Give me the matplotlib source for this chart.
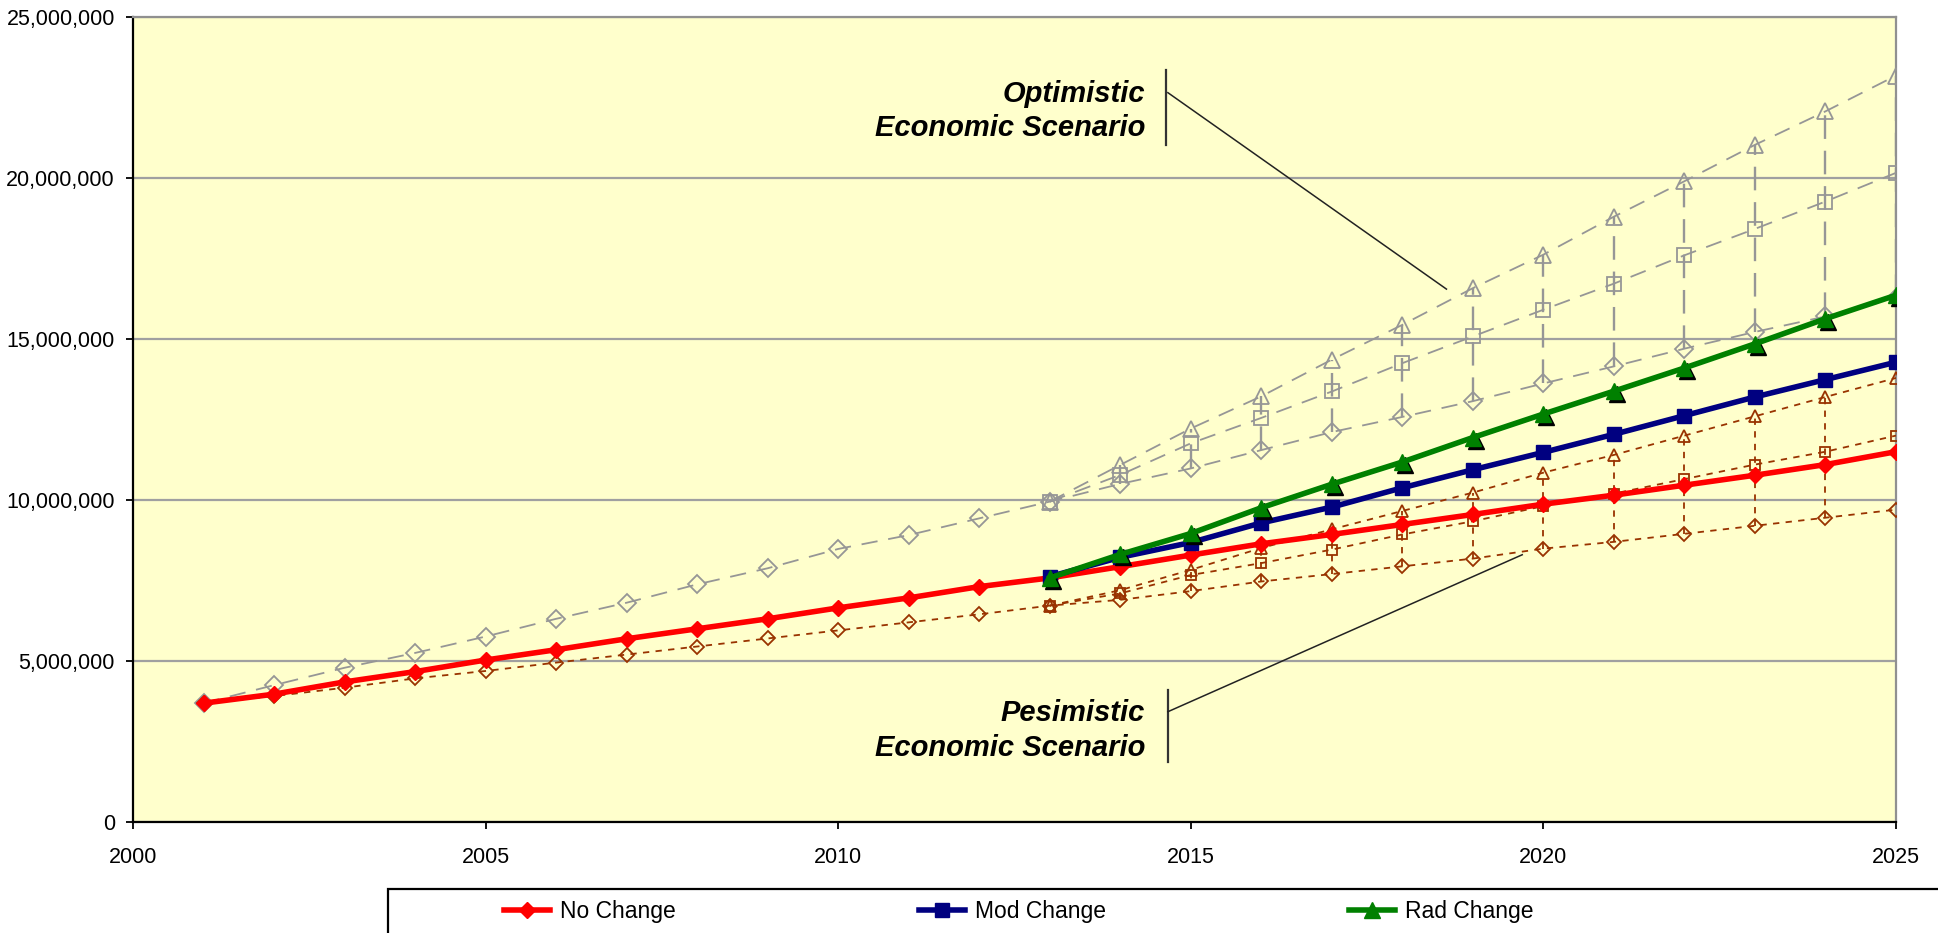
import matplotlib
matplotlib.use('Agg')
import matplotlib.pyplot as plt
import numpy as np
from matplotlib.transforms import offset_copy
from matplotlib.patches import Rectangle
from matplotlib.ticker import FuncFormatter, MultipleLocator

plt.rcParams['font.family'] = ['Liberation Sans', 'DejaVu Sans']

# ---------------- data (millions) ----------------
years_all = list(range(2001, 2026))
years_proj = list(range(2013, 2026))

no_change = [3.69, 3.97, 4.35, 4.67, 5.03, 5.35, 5.69, 6.00, 6.31, 6.65, 6.96, 7.31, 7.58,
             7.93, 8.29, 8.64, 8.93, 9.24, 9.55, 9.87, 10.15, 10.46, 10.77, 11.10, 11.50]
mod_change = [7.62, 8.22, 8.68, 9.29, 9.78, 10.38, 10.94, 11.48, 12.04, 12.62, 13.20, 13.74, 14.28]
rad_change = [7.58, 8.31, 8.96, 9.76, 10.49, 11.18, 11.94, 12.67, 13.38, 14.10, 14.85, 15.63, 16.36]

opt_no = [3.69, 4.25, 4.79, 5.25, 5.76, 6.31, 6.81, 7.38, 7.88, 8.48, 8.91, 9.43, 9.95,
          10.50, 10.98, 11.55, 12.11, 12.58, 13.07, 13.62, 14.15, 14.70, 15.22, 15.70, 16.27]
opt_mod = [9.95, 10.78, 11.76, 12.55, 13.37, 14.25, 15.08, 15.91, 16.72, 17.60, 18.42, 19.27, 20.16]
opt_rad = [9.95, 11.09, 12.22, 13.22, 14.36, 15.44, 16.58, 17.62, 18.80, 19.90, 21.03, 22.07, 23.18]

pes_no = [3.69, 3.91, 4.17, 4.46, 4.69, 4.95, 5.20, 5.45, 5.70, 5.95, 6.20, 6.45, 6.72,
          6.90, 7.17, 7.47, 7.70, 7.94, 8.18, 8.49, 8.70, 8.95, 9.20, 9.45, 9.70]
pes_mod = [6.72, 7.10, 7.67, 8.04, 8.46, 8.93, 9.34, 9.81, 10.20, 10.65, 11.10, 11.50, 12.00]
pes_rad = [6.72, 7.20, 7.83, 8.51, 9.09, 9.66, 10.23, 10.85, 11.40, 12.00, 12.60, 13.20, 13.79]

labels = ['No Change', 'Mod Change', 'Rad Change']
x_ticks = [2000, 2005, 2010, 2015, 2020, 2025]

M = 1e6
def sc(v):
    return np.array(v) * M

# ---------------- figure ----------------
W, H = 1938, 933
fig = plt.figure(figsize=(W / 100, H / 100), dpi=100)
ax = fig.add_axes([133 / W, (H - 822) / H, (1896 - 133) / W, (822 - 17) / H])
ax.set_facecolor('#FFFFCC')

gray = '#969696'
brown = '#993300'

# optimistic (gray, dashed, hollow markers)
dash_g = (0, (9, 6))
ax.plot(years_all, sc(opt_no), color=gray, lw=1.3, ls=dash_g, marker='D', ms=9.5,
        mfc='none', mec=gray, mew=1.3, zorder=3)
ax.plot(years_proj, sc(opt_mod), color=gray, lw=1.3, ls=dash_g, marker='s', ms=10,
        mfc='none', mec=gray, mew=1.3, zorder=3)
ax.plot(years_proj, sc(opt_rad), color=gray, lw=1.3, ls=dash_g, marker='^', ms=11.5,
        mfc='none', mec=gray, mew=1.3, zorder=3)
opt_lo = np.minimum(np.minimum(opt_no[12:], opt_mod), opt_rad)
opt_hi = np.maximum(np.maximum(opt_no[12:], opt_mod), opt_rad)
ax.vlines(years_proj[1:], sc(opt_lo[1:]), sc(opt_hi[1:]), colors=gray, lw=1.7,
          linestyles=[(0, (10, 5))], zorder=2.5)

# pessimistic (brown, dotted, small hollow markers)
dash_b = (0, (3.5, 3.5))
ax.plot(years_all, sc(pes_no), color=brown, lw=1.3, ls=dash_b, marker='D', ms=7,
        mfc='none', mec=brown, mew=1.3, zorder=3)
ax.plot(years_proj, sc(pes_mod), color=brown, lw=1.3, ls=dash_b, marker='s', ms=7.5,
        mfc='none', mec=brown, mew=1.3, zorder=3)
ax.plot(years_proj, sc(pes_rad), color=brown, lw=1.3, ls=dash_b, marker='^', ms=8.5,
        mfc='none', mec=brown, mew=1.3, zorder=3)
pes_lo = np.minimum(np.minimum(pes_no[12:], pes_mod), pes_rad)
pes_hi = np.maximum(np.maximum(pes_no[12:], pes_mod), pes_rad)
ax.vlines(years_proj[1:], sc(pes_lo[1:]), sc(pes_hi[1:]), colors=brown, lw=1.3,
          linestyles=[dash_b], zorder=2.5)

# main scenarios
l_red, = ax.plot(years_all, sc(no_change), color='#FF0000', lw=4.0, marker='D', ms=8.5,
                 mfc='#FF0000', mec='#FF0000', zorder=5, label=labels[0])
l_blue, = ax.plot(years_proj, sc(mod_change), color='#000080', lw=4.0, marker='s', ms=10,
                  mfc='#000080', mec='#000080', zorder=6, label=labels[1])
shadow = offset_copy(ax.transData, fig=fig, x=3, y=-3, units='dots')
ax.plot(years_proj, sc(rad_change), ls='none', marker='^', ms=11.5, mfc='black', mec='black',
        transform=shadow, zorder=6.5)
l_green, = ax.plot(years_proj, sc(rad_change), color='#008000', lw=4.0, marker='^', ms=11.5,
                   mfc='#008000', mec='#008000', zorder=7, label=labels[2])

# axes styling
ax.set_xlim(2000, 2025)
ax.set_ylim(0, 25 * M)
ax.set_xticks(x_ticks)
ax.yaxis.set_major_locator(MultipleLocator(5 * M))
ax.yaxis.set_major_formatter(FuncFormatter(lambda v, p: f'{v:,.0f}'))
ax.grid(axis='y', color='#A0A0A0', lw=1.6, zorder=1)
ax.set_axisbelow(True)
for s in ['left', 'bottom']:
    ax.spines[s].set_color('black')
    ax.spines[s].set_linewidth(1.6)
for s in ['top', 'right']:
    ax.spines[s].set_color('#909090')
    ax.spines[s].set_linewidth(1.6)
ax.tick_params(axis='both', direction='out', length=5, width=1.3, labelsize=15.5,
               colors='black')
ax.tick_params(axis='y', pad=8)
ax.tick_params(axis='x', pad=13)

# annotations
txt_kw = dict(transform=ax.transAxes, ha='right', va='center', fontsize=21,
              style='italic', weight='bold', linespacing=1.3)
ax.text(0.574, 0.883, 'Optimistic\nEconomic Scenario', **txt_kw)
ax.text(0.574, 0.114, 'Pesimistic\nEconomic Scenario', **txt_kw)
ax.plot([0.586, 0.586], [0.934, 0.841], transform=ax.transAxes, color='#333333', lw=1.6, zorder=8)
ax.plot([0.587, 0.745], [0.906, 0.662], transform=ax.transAxes, color='#222222', lw=1.1, zorder=8)
ax.plot([0.587, 0.587], [0.164, 0.0745], transform=ax.transAxes, color='#333333', lw=1.6, zorder=8)
ax.plot([0.587, 0.788], [0.137, 0.332], transform=ax.transAxes, color='#222222', lw=1.1, zorder=8)

# legend
fig.add_artist(Rectangle((388 / W, -0.05), 1.2, (H - 889) / H + 0.05, transform=fig.transFigure,
                         fill=False, edgecolor='black', lw=1.6))
fig.legend([l_red, l_blue, l_green], labels, loc='upper left',
           bbox_to_anchor=(504 / W, 1 - 900 / H), ncol=3, frameon=False, fontsize=16.5,
           handlelength=2.0, handletextpad=0.45, columnspacing=10.6, borderpad=0,
           borderaxespad=0)

fig.savefig('out.png', dpi=100, facecolor='white')
